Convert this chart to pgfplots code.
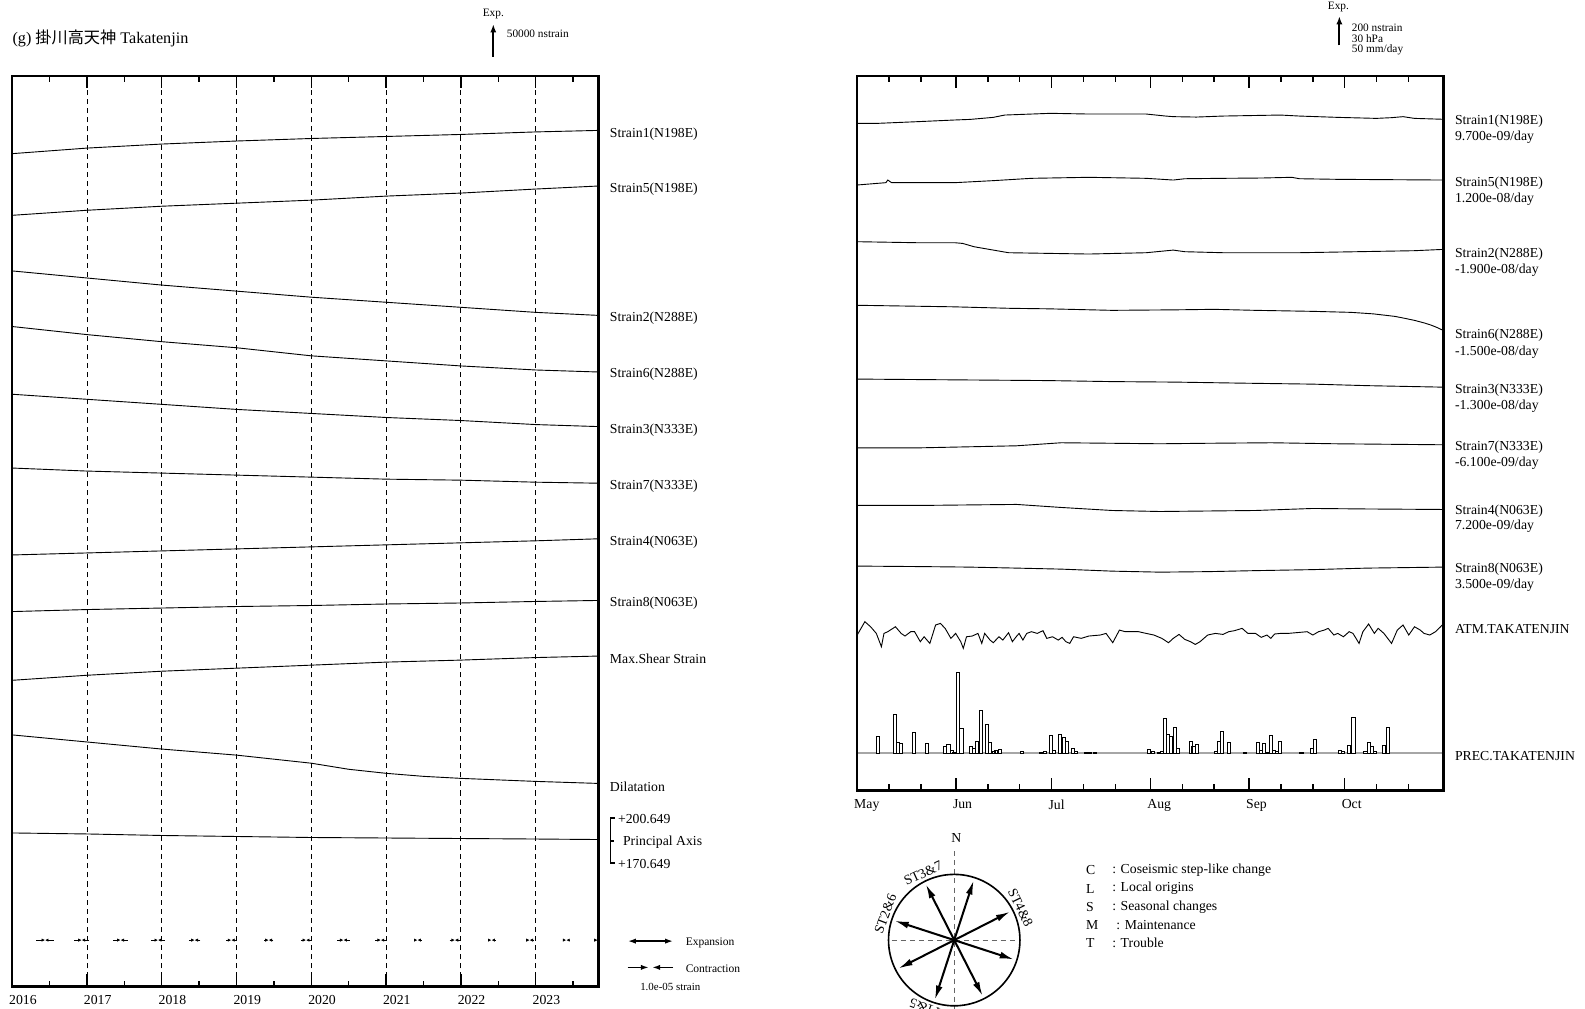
\documentclass[border=0pt]{standalone}
\usepackage{fontspec}
\setmainfont{Liberation Serif}
\newfontfamily\cjk{Noto Sans CJK JP}
\usepackage{pgfplots}
\pgfplotsset{compat=1.18}
\usetikzlibrary{arrows.meta}
\newcommand\fs[1]{\fontsize{#1}{#1}\selectfont}

\pgfplotsset{panel/.style={scale only axis, anchor=north west,
  axis line style={line width=1.1pt}, ytick=\empty,
  tick align=inside, major tick length=6pt, minor tick length=3pt,
  tick style={black, line width=0.7pt},
  xticklabel style={anchor=north west, xshift=-5pt, yshift=-1pt, font=\fs{6.8}}}}

\begin{document}
\begin{tikzpicture}
\useasboundingbox (0pt,0pt) rectangle (784pt,-499pt);

% ---------------- left panel: long-term ----------------
\begin{axis}[panel, at={(6pt,-37.5pt)}, width=290pt, height=450.5pt,
  xmin=2016, xmax=2023.84, ymin=-976, ymax=-75,
  xtick={2016,2017,2018,2019,2020,2021,2022,2023},
  xticklabels={2016,2017,2018,2019,2020,2021,2022,2023},
  minor xtick={2016.5,2017.5,2018.5,2019.5,2020.5,2021.5,2022.5,2023.5},
  xmajorgrids, grid style={black, line width=0.35pt, dash pattern=on 2.5pt off 2pt}]
\addplot[black, line width=0.45pt] coordinates {(2016,-152) (2017,-146.5) (2018,-142.5) (2019,-139.5) (2020,-137) (2021,-135) (2022,-133) (2023,-130.5) (2023.84,-129)};
\addplot[black, line width=0.45pt] coordinates {(2016,-213) (2017,-208) (2018,-204) (2019,-201) (2020,-198) (2021,-194) (2022,-191) (2023,-187) (2023.84,-184)};
\addplot[black, line width=0.45pt] coordinates {(2016,-268) (2017,-275) (2018,-282) (2019,-288) (2020,-294) (2021,-299) (2022,-304) (2023,-309) (2023.84,-312)};
\addplot[black, line width=0.45pt] coordinates {(2016,-323) (2017,-331) (2018,-338) (2019,-344) (2020,-352) (2021,-357) (2022,-362) (2023,-366) (2023.84,-368)};
\addplot[black, line width=0.45pt] coordinates {(2016,-390) (2017,-395) (2018,-400) (2019,-405) (2020,-409) (2021,-413) (2022,-416) (2023,-420) (2023.84,-422)};
\addplot[black, line width=0.45pt] coordinates {(2016,-463) (2017,-466) (2018,-468) (2019,-470) (2020,-472) (2021,-474) (2022,-475) (2023,-477) (2023.84,-478)};
\addplot[black, line width=0.45pt] coordinates {(2016,-549) (2017,-547) (2018,-545) (2019,-543) (2020,-541) (2021,-539) (2022,-537) (2023,-535) (2023.84,-533)};
\addplot[black, line width=0.45pt] coordinates {(2016,-605) (2017,-603) (2018,-601.5) (2019,-600) (2020,-599) (2021,-597.5) (2022,-596.5) (2023,-595) (2023.84,-594)};
\addplot[black, line width=0.45pt] coordinates {(2016,-673) (2017,-668) (2018,-664) (2019,-661) (2020,-658) (2021,-655) (2022,-653) (2023,-650.5) (2023.84,-649)};
\addplot[black, line width=0.45pt] coordinates {(2016,-727) (2017,-734) (2018,-741) (2019,-747) (2020,-755) (2020.5,-761) (2021,-765) (2021.5,-768) (2022,-770) (2023,-773) (2023.84,-775)};
\addplot[black, line width=0.45pt] coordinates {(2016,-824) (2017,-825) (2018,-826.5) (2019,-827.5) (2020,-828.5) (2021,-829) (2022,-829.5) (2023,-830) (2023.84,-830.5)};
% principal strain (contraction) arrows
\addplot[black, line width=0.5pt, -{Latex[length=1.7pt,width=1.7pt]}, quiver={u=\thisrow{u}, v=0}] table {
x y u
2016.325 -930 0.115
2016.555 -930 -0.115
2016.83 -930 0.100
2017.03 -930 -0.100
2017.355 -930 0.095
2017.545 -930 -0.095
2017.86 -930 0.090
2018.04 -930 -0.090
2018.363 -930 0.077
2018.517 -930 -0.077
2018.861 -930 0.069
2018.999 -930 -0.069
2019.368 -930 0.062
2019.492 -930 -0.062
2019.861 -930 0.069
2019.999 -930 -0.069
2020.346 -930 0.084
2020.514 -930 -0.084
2020.853 -930 0.077
2021.007 -930 -0.077
2021.374 -930 0.046
2021.466 -930 -0.046
2021.851 -930 0.069
2021.989 -930 -0.069
2022.366 -930 0.044
2022.454 -930 -0.044
2022.874 -930 0.046
2022.966 -930 -0.046
2023.366 -930 0.044
2023.454 -930 -0.044
2023.79 -930 0.04
};
\end{axis}

% ---------------- right panel: precipitation (own scale) ----------------
\begin{axis}[scale only axis, anchor=north west, at={(424pt,-37.5pt)}, width=290pt, height=353.5pt,
  xmin=0, xmax=184, ymin=-68.5, ymax=1240.7, axis lines=none, ticks=none]
\addplot[gray!70, line width=0.6pt] coordinates {(0,0) (184,0)};
\addplot[ybar, bar width=1, draw=black, fill=white, line width=0.35pt] table {
x mm
6.6 29.9
11.7 70.2
12.7 18.9
13.7 17.0
17.7 37.2
21.8 17.0
27.5 12.8
28.6 15.2
29.7 5.5
30.5 1.8
31.6 147.1
32.7 45.8
35.6 11.5
36.5 7.9
37.5 20.7
38.7 78.2
40.8 52.6
41.7 18.9
42.8 2.4
43.6 4.2
44.7 6.0
51.7 2.4
57.7 1.3
58.9 2.4
60.7 32.4
61.7 4.9
63.7 34.8
64.8 28.8
65.8 22.0
67.6 7.9
68.6 3.7
71.8 1.3
73.0 1.3
74.5 1.3
91.6 6.8
92.7 3.1
94.7 1.8
95.7 2.4
96.6 63.6
97.5 33.5
98.4 29.9
99.8 47.1
100.6 7.9
104.6 20.7
105.5 12.8
106.6 15.2
112.6 2.4
113.5 22.0
114.5 39.0
116.6 19.6
121.6 1.3
125.7 18.9
126.7 4.9
127.6 17.8
128.7 1.3
129.8 32.4
130.8 4.9
131.6 3.1
132.6 20.7
139.4 1.8
142.6 7.9
143.6 25.1
151.4 5.5
152.4 3.1
154.3 14.1
155.7 65.4
159.5 2.4
160.6 18.9
161.5 12.3
162.4 2.4
165.4 14.1
166.5 46.4
};
\end{axis}

% ---------------- right panel: short-term ----------------
\begin{axis}[panel, at={(424pt,-37.5pt)}, width=290pt, height=353.5pt,
  xmin=0, xmax=184, ymin=-782, ymax=-75,
  xtick={0,31,61,92,123,153}, xticklabels={May,Jun,Jul,Aug,Sep,Oct},
  minor xtick={10,20,41,51,71,81,102,112,133,143,163,173}]
% Strain1
\addplot[black, line width=0.45pt] coordinates {(0,-122) (6.6,-122) (18.6,-120.4) (30.6,-118.7) (35.5,-118.1) (42.7,-116.1) (46.3,-113.8) (60.7,-112.1) (72.7,-112.8) (90.7,-112.8) (96.8,-114.8) (99.2,-115.4) (106.4,-115.8) (114.8,-114.8) (132.8,-113.8) (138.8,-114.8) (150.8,-116.1) (162.9,-117.1) (167.7,-116.4) (171.3,-115.4) (174.9,-117.1) (184,-118)};
% Strain5
\addplot[black, line width=0.45pt] coordinates {(0,-183) (9,-180.7) (9.6,-178.1) (10.8,-180.7) (30.6,-180.7) (42.7,-178.7) (54.7,-176.4) (72.7,-175.4) (90.7,-176.4) (99.2,-178.1) (102.8,-176.8) (114.8,-176.4) (126.8,-176.1) (136.4,-175.4) (138.8,-176.8) (150.8,-177.4) (184,-178.1)};
% Strain2
\addplot[black, line width=0.45pt] coordinates {(0,-239.1) (18.6,-240.1) (30.6,-240.1) (33.1,-240.8) (36.7,-244.1) (47.5,-250) (72.7,-251.3) (90.7,-250) (99.2,-247.4) (102.8,-249) (114.8,-250) (138.8,-250) (156.9,-249) (174.9,-248) (184,-246.7)};
% Strain6
\addplot[black, line width=0.45pt] coordinates {(0,-302) (10,-302.5) (30,-303.5) (48,-305) (60,-305.5) (80,-307) (100,-306.5) (112,-306) (125,-307) (143,-308) (155,-309) (162,-310.5) (168.8,-313) (172,-315) (175,-317) (178,-319.5) (180,-321.5) (182,-324) (184,-327)};
% Strain3
\addplot[black, line width=0.45pt] coordinates {(0,-375) (20,-375.5) (40,-376) (60,-376.5) (80,-377.5) (100,-378) (120,-379) (143,-380) (160,-381.5) (184,-383)};
% Strain7
\addplot[black, line width=0.45pt] coordinates {(0,-443) (20,-443) (35,-442) (50,-441) (64,-438) (80,-438.5) (95,-439) (110,-438.5) (130,-438) (150,-439) (184,-440)};
% Strain4
\addplot[black, line width=0.45pt] coordinates {(0,-500) (20,-500) (35,-499.5) (50,-499) (64,-502) (80,-505) (95,-506) (110,-505.5) (125,-505) (143,-503) (160,-503.5) (184,-504)};
% Strain8
\addplot[black, line width=0.45pt] coordinates {(0,-560) (20,-560.5) (35,-561) (50,-562) (64,-563) (80,-565) (95,-566) (110,-565.5) (125,-564.5) (143,-563.5) (160,-562) (184,-561)};
% ATM
\addplot[black, line width=0.45pt] coordinates {(0,-628.2) (2.4,-615.0) (4.2,-620.0) (6.0,-626.6) (7.6,-639.8) (8.4,-626.6) (9.6,-624.9) (12.0,-620.0) (13.8,-626.6) (15.0,-629.2) (16.8,-624.9) (18.0,-624.9) (19.8,-634.8) (21.0,-629.9) (22.8,-636.5) (24.6,-618.3) (26.1,-616.7) (27.6,-621.6) (29.4,-631.5) (30.9,-626.6) (32.5,-634.8) (33.3,-641.4) (34.3,-629.9) (36.1,-629.2) (37.9,-626.6) (39.1,-636.5) (40.0,-626.6) (41.7,-633.2) (42.7,-635.8) (44.5,-629.9) (45.7,-633.2) (47.5,-625.9) (48.7,-634.8) (49.9,-629.9) (50.8,-626.6) (52.0,-633.2) (53.2,-626.6) (54.7,-624.9) (56.5,-626.6) (58.3,-623.9) (59.5,-631.5) (61.3,-629.9) (63.1,-633.2) (64.3,-630.5) (65.5,-634.8) (66.7,-636.5) (67.9,-629.9) (70.3,-631.5) (72.7,-629.2) (76.3,-628.2) (78.1,-626.6) (80.2,-635.8) (82.3,-623.3) (84.1,-624.9) (88.3,-624.9) (90.7,-626.6) (93.1,-628.2) (95.6,-631.5) (97.7,-635.8) (99.2,-631.5) (101.0,-627.6) (102.8,-632.5) (104.6,-634.8) (106.1,-637.5) (107.6,-634.8) (110.0,-628.2) (112.4,-626.6) (114.8,-627.6) (116.6,-624.9) (118.4,-623.9) (120.8,-621.6) (122.6,-626.6) (125.0,-626.6) (126.8,-630.5) (128.6,-628.2) (129.8,-631.5) (131.0,-627.2) (132.8,-626.6) (135.2,-626.6) (138.8,-625.6) (141.2,-624.9) (143.0,-628.2) (144.8,-624.9) (146.6,-623.3) (147.8,-621.6) (149.6,-628.2) (150.8,-626.6) (152.6,-629.9) (154.4,-624.9) (155.6,-626.6) (157.5,-636.5) (158.7,-624.9) (160.5,-617.3) (162.3,-626.6) (163.5,-621.6) (165.3,-626.6) (167.7,-636.5) (169.5,-623.3) (171.3,-618.3) (173.1,-628.2) (174.9,-620.0) (176.7,-623.3) (177.9,-626.6) (179.7,-628.2) (181.5,-624.9) (183.1,-620.0) (184,-617)};
\end{axis}

% ---------------- annotations (pixel coordinates) ----------------
\begin{scope}[x=0.5pt,y=-0.5pt]
% title
\node[anchor=west, inner sep=0pt, font=\fs{8}] at (12,38) {(g) {\cjk 掛川高天神} Takatenjin};
% left scale
\draw[line width=0.9pt, -{Latex[length=4pt,width=3pt]}] (488,56) -- (488,24);
\node[font=\fs{5.6}, inner sep=0pt] at (488,14) {Exp.};
\node[anchor=west, font=\fs{5.6}, inner sep=0pt] at (501,33) {50000 nstrain};
% right scale
\draw[line width=0.9pt, -{Latex[length=4pt,width=3pt]}] (1325,45) -- (1325,16);
\node[font=\fs{5.6}, inner sep=0pt] at (1324,7) {Exp.};
\node[anchor=west, font=\fs{5.6}, inner sep=0pt] at (1337,27) {200 nstrain};
\node[anchor=west, font=\fs{5.6}, inner sep=0pt] at (1337,38) {30 hPa};
\node[anchor=west, font=\fs{5.6}, inner sep=0pt] at (1337,49) {50 mm/day};
% left labels
\begin{scope}[every node/.style={anchor=west, font=\fs{6.8}, inner sep=0pt}]
\node at (603,133) {Strain1(N198E)};
\node at (603,187) {Strain5(N198E)};
\node at (603,315) {Strain2(N288E)};
\node at (603,370) {Strain6(N288E)};
\node at (603,426) {Strain3(N333E)};
\node at (603,481) {Strain7(N333E)};
\node at (603,536) {Strain4(N063E)};
\node at (603,597) {Strain8(N063E)};
\node at (603,652) {Max.Shear Strain};
\node at (603,778) {Dilatation};
\node at (611,810) {+200.649};
\node at (616,833) {Principal Axis};
\node at (611,855) {+170.649};
% right labels
\node at (1439,120) {Strain1(N198E)};
\node at (1439,136) {9.700e-09/day};
\node at (1439,181) {Strain5(N198E)};
\node at (1439,197) {1.200e-08/day};
\node at (1439,251) {Strain2(N288E)};
\node at (1439,267) {-1.900e-08/day};
\node at (1439,332) {Strain6(N288E)};
\node at (1439,348) {-1.500e-08/day};
\node at (1439,386) {Strain3(N333E)};
\node at (1439,402) {-1.300e-08/day};
\node at (1439,442) {Strain7(N333E)};
\node at (1439,458) {-6.100e-09/day};
\node at (1439,506) {Strain4(N063E)};
\node at (1439,521) {7.200e-09/day};
\node at (1439,563) {Strain8(N063E)};
\node at (1439,579) {3.500e-09/day};
\node at (1439,622) {ATM.TAKATENJIN};
\node at (1439,748) {PREC.TAKATENJIN};
% legend letters
\node at (1074,861) {C};  \node at (1100,861) {: Coseismic step-like change};
\node at (1074,879) {L};  \node at (1100,879) {: Local origins};
\node at (1074,897) {S};  \node at (1100,897) {: Seasonal changes};
\node at (1074,915) {M};  \node at (1104,915) {: Maintenance};
\node at (1074,933) {T};  \node at (1100,933) {: Trouble};
\end{scope}
% principal axis bracket
\draw[line width=0.8pt] (608,809) -- (604,809) -- (604,854) -- (608,854);
\draw[line width=0.8pt] (604,832) -- (607,832);
% expansion / contraction legend
\draw[line width=0.8pt, {Latex[length=4pt,width=2.6pt]}-{Latex[length=4pt,width=2.6pt]}] (621,931) -- (666,931);
\draw[line width=0.8pt, -{Latex[length=4pt,width=2.6pt]}] (621,957) -- (642,957);
\draw[line width=0.8pt, -{Latex[length=4pt,width=2.6pt]}] (666,957) -- (645,957);
\node[anchor=west, font=\fs{5.7}, inner sep=0pt] at (678,933) {Expansion};
\node[anchor=west, font=\fs{5.7}, inner sep=0pt] at (678,958) {Contraction};
\node[anchor=west, font=\fs{5.4}, inner sep=0pt] at (633,976) {1.0e-05 strain};
% compass
\node[font=\fs{6.8}, inner sep=0pt] at (946,829) {N};
\draw[gray!80!black, line width=0.5pt, dash pattern=on 2.5pt off 2pt] (944,842) -- (944,1000);
\draw[gray!80!black, line width=0.5pt, dash pattern=on 2.5pt off 2pt] (882,930) -- (1006,930);
\draw[line width=0.8pt] (944,930) circle [radius=32.5pt];
\begin{scope}[line width=1pt, -{Latex[length=7pt,width=3.4pt]}]
\draw (944,930) -- (963.2,871.0);
\draw (944,930) -- (924.8,989.0);
\draw (944,930) -- (915.9,874.8);
\draw (944,930) -- (972.1,985.2);
\draw (944,930) -- (885.0,910.8);
\draw (944,930) -- (1003.0,949.2);
\draw (944,930) -- (999.2,901.9);
\draw (944,930) -- (888.8,958.1);
\end{scope}
\begin{scope}[every node/.style={anchor=south, font=\fs{6.8}, inner sep=0.5pt}]
\node[rotate=25] at (915.7,869.3) {ST3\&7};
\node[rotate=69] at (881.4,906.0) {ST2\&6};
\node[rotate=-64] at (1004.2,900.6) {ST4\&8};
\node[rotate=160] at (921.1,993.0) {ST1\&5};
\end{scope}
\end{scope}
\end{tikzpicture}
\end{document}
